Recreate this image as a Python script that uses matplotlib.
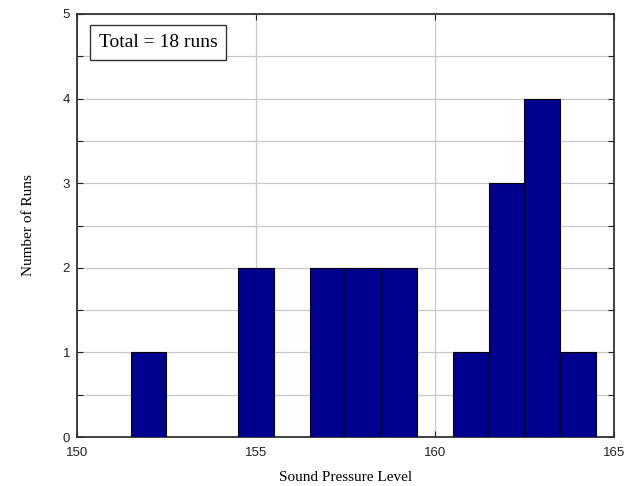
import numpy as np
import matplotlib.pyplot as plt
from matplotlib.ticker import MultipleLocator, FuncFormatter

# === DATOS ===
bin_centers = [152, 155, 157, 158, 159, 161, 162, 163, 164]
run_counts = [1, 2, 2, 2, 2, 1, 3, 4, 1]
total_runs = sum(run_counts)

x_ticks = [150, 155, 160, 165]

fig = plt.figure(figsize=(6.28, 4.86), dpi=100)
ax = fig.add_axes([0.1226, 0.1008, 0.855, 0.8704])

ax.bar(bin_centers, run_counts, width=1.0, color="#00008f",
       edgecolor="black", linewidth=0.8, zorder=3)

ax.set_xlim(150, 165)
ax.set_ylim(0, 5)
ax.set_xticks(x_ticks)
ax.yaxis.set_major_locator(MultipleLocator(0.5))
ax.yaxis.set_major_formatter(
    FuncFormatter(lambda v, p: f"{int(v)}" if abs(v - round(v)) < 1e-9 else ""))

ax.grid(True, color="#c8c8c8", linewidth=0.9, zorder=0)
ax.tick_params(direction="in", length=4, width=0.8, top=True, right=True,
               labelsize=9.5, colors="#222222")
ax.tick_params(axis="x", pad=7)
ax.tick_params(axis="y", pad=5)
for lbl in ax.get_xticklabels() + ax.get_yticklabels():
    lbl.set_fontfamily("Liberation Sans")
for s in ax.spines.values():
    s.set_linewidth(1.3)
    s.set_color("#333333")

ax.set_xlabel("Sound Pressure Level", family="Liberation Serif", fontsize=11, labelpad=9)
ax.set_ylabel("Number of Runs", family="Liberation Serif", fontsize=11, labelpad=20)

ax.text(0.151, 0.933, f"Total = {total_runs} runs", transform=ax.transAxes,
        family="Liberation Serif", fontsize=14, ha="center", va="center",
        bbox=dict(boxstyle="square,pad=0.45", facecolor="white",
                  edgecolor="#333333", linewidth=1.0), zorder=5)

fig.savefig("out.png", dpi=100)
